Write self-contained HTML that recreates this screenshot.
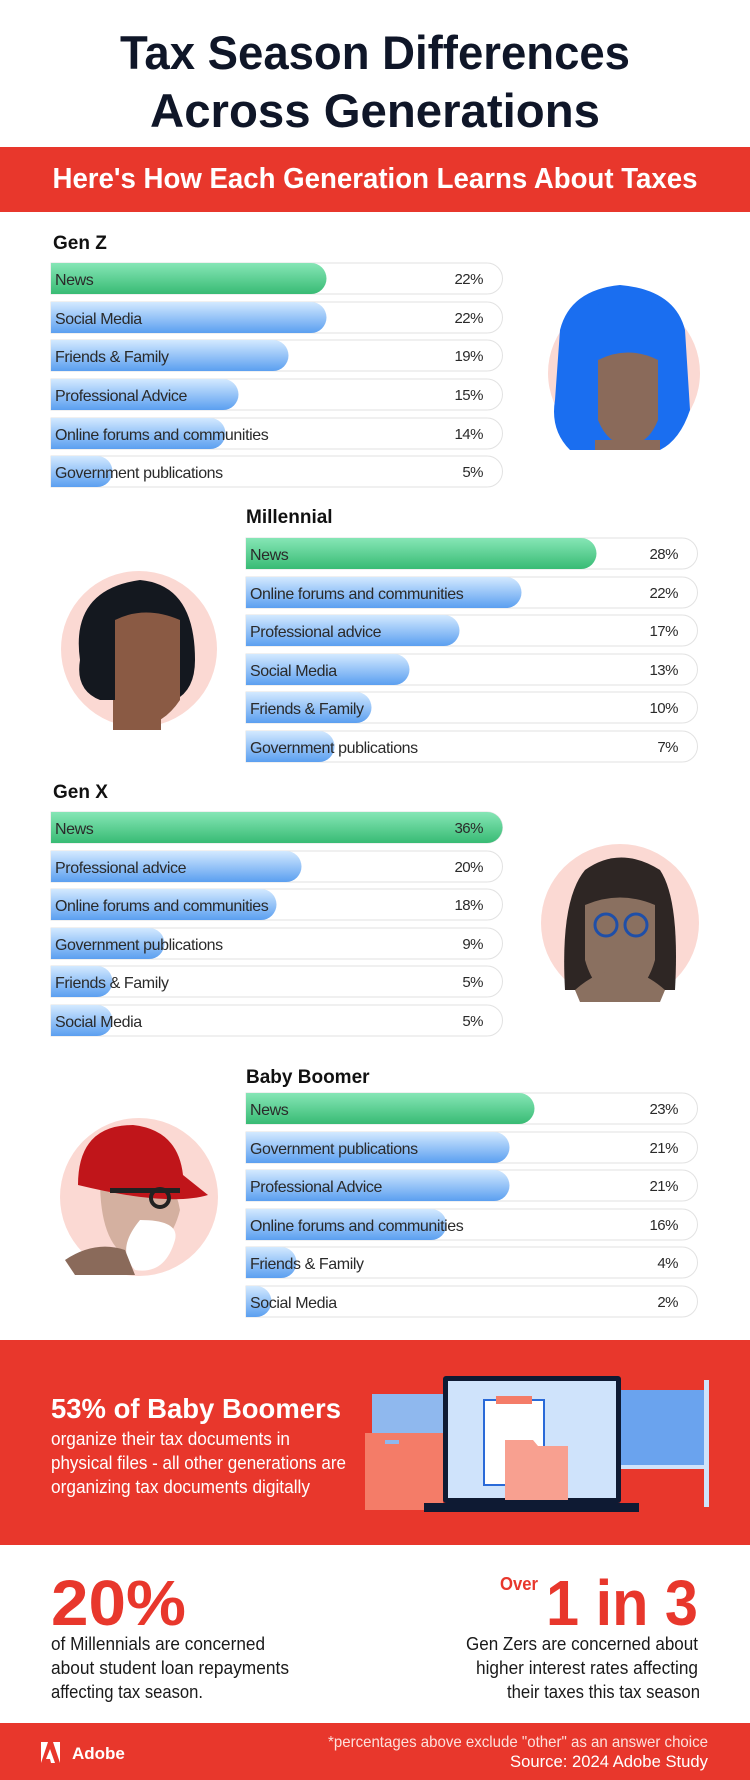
<!DOCTYPE html>
<html><head><meta charset="utf-8"><style>
html,body{margin:0;padding:0;background:#fff}
svg{display:block}
text{font-family:"Liberation Sans",sans-serif}
.lb{font-size:16px;fill:#2a2a2a;letter-spacing:-0.4px}
.pc{font-size:15px;fill:#2a2a2a;text-anchor:end;letter-spacing:-0.5px}
.hd{font-size:19px;font-weight:bold;fill:#111}
</style></head><body>
<svg width="750" height="1780" viewBox="0 0 750 1780" xmlns="http://www.w3.org/2000/svg">
<defs>
<linearGradient id="g" x1="0" y1="0" x2="0" y2="1"><stop offset="0" stop-color="#86e6b6"/><stop offset="1" stop-color="#38bb74"/></linearGradient>
<linearGradient id="b" x1="0" y1="0" x2="0" y2="1"><stop offset="0" stop-color="#d3e9ff"/><stop offset="1" stop-color="#5b9ff0"/></linearGradient>
</defs>
<rect width="750" height="1780" fill="#fff"/>
<text x="375" y="69" text-anchor="middle" font-size="47" font-weight="bold" fill="#0f1628" textLength="510" lengthAdjust="spacingAndGlyphs">Tax Season Differences</text>
<text x="375" y="127" text-anchor="middle" font-size="47" font-weight="bold" fill="#0f1628" textLength="450" lengthAdjust="spacingAndGlyphs">Across Generations</text>
<rect x="0" y="147" width="750" height="65" fill="#e8372c"/>
<text x="375" y="188" text-anchor="middle" font-size="29" font-weight="bold" fill="#fff" textLength="645" lengthAdjust="spacingAndGlyphs">Here's How Each Generation Learns About Taxes</text>

<!-- Gen Z -->
<text class="hd" x="53" y="249">Gen Z</text>
<g id="genz">
<path d="M51 263h436a15.5 15.5 0 0 1 0 31h-436z" fill="#fff" stroke="#e2e2e2"/><path d="M51 263h260a15.5 15.5 0 0 1 0 31h-260z" fill="url(#g)"/><text class="lb" x="55" y="285">News</text><text class="pc" x="483" y="284">22%</text>
<path d="M51 302h436a15.5 15.5 0 0 1 0 31h-436z" fill="#fff" stroke="#e2e2e2"/><path d="M51 302h260a15.5 15.5 0 0 1 0 31h-260z" fill="url(#b)"/><text class="lb" x="55" y="324">Social Media</text><text class="pc" x="483" y="323">22%</text>
<path d="M51 340h436a15.5 15.5 0 0 1 0 31h-436z" fill="#fff" stroke="#e2e2e2"/><path d="M51 340h222a15.5 15.5 0 0 1 0 31h-222z" fill="url(#b)"/><text class="lb" x="55" y="362">Friends &amp; Family</text><text class="pc" x="483" y="361">19%</text>
<path d="M51 379h436a15.5 15.5 0 0 1 0 31h-436z" fill="#fff" stroke="#e2e2e2"/><path d="M51 379h172a15.5 15.5 0 0 1 0 31h-172z" fill="url(#b)"/><text class="lb" x="55" y="401">Professional Advice</text><text class="pc" x="483" y="400">15%</text>
<path d="M51 418h436a15.5 15.5 0 0 1 0 31h-436z" fill="#fff" stroke="#e2e2e2"/><path d="M51 418h159a15.5 15.5 0 0 1 0 31h-159z" fill="url(#b)"/><text class="lb" x="55" y="440">Online forums and communities</text><text class="pc" x="483" y="439">14%</text>
<path d="M51 456h436a15.5 15.5 0 0 1 0 31h-436z" fill="#fff" stroke="#e2e2e2"/><path d="M51 456h46a15.5 15.5 0 0 1 0 31h-46z" fill="url(#b)"/><text class="lb" x="55" y="478">Government publications</text><text class="pc" x="483" y="477">5%</text>
</g>
<!-- Gen Z avatar -->
<circle cx="624" cy="373" r="76" fill="#fbd9d3"/>
<path d="M560 330q10-40 60-45q55 5 65 45l5 80q-10 30-30 40h-90q-20-20-15-50z" fill="#1a6ef0"/>
<circle cx="592" cy="318" r="15" fill="#1a6ef0"/><circle cx="658" cy="318" r="15" fill="#1a6ef0"/>
<path d="M598 360q30-15 60 0v60q-10 25-30 25t-30-25z" fill="#8a6a5a"/>
<path d="M595 440h65v10h-65z" fill="#8a6a5a"/>

<!-- Millennial -->
<text class="hd" x="246" y="523">Millennial</text>
<path d="M246 538h436a15.5 15.5 0 0 1 0 31h-436z" fill="#fff" stroke="#e2e2e2"/><path d="M246 538h335a15.5 15.5 0 0 1 0 31h-335z" fill="url(#g)"/><text class="lb" x="250" y="560">News</text><text class="pc" x="678" y="559">28%</text>
<path d="M246 577h436a15.5 15.5 0 0 1 0 31h-436z" fill="#fff" stroke="#e2e2e2"/><path d="M246 577h260a15.5 15.5 0 0 1 0 31h-260z" fill="url(#b)"/><text class="lb" x="250" y="599">Online forums and communities</text><text class="pc" x="678" y="598">22%</text>
<path d="M246 615h436a15.5 15.5 0 0 1 0 31h-436z" fill="#fff" stroke="#e2e2e2"/><path d="M246 615h198a15.5 15.5 0 0 1 0 31h-198z" fill="url(#b)"/><text class="lb" x="250" y="637">Professional advice</text><text class="pc" x="678" y="636">17%</text>
<path d="M246 654h436a15.5 15.5 0 0 1 0 31h-436z" fill="#fff" stroke="#e2e2e2"/><path d="M246 654h148a15.5 15.5 0 0 1 0 31h-148z" fill="url(#b)"/><text class="lb" x="250" y="676">Social Media</text><text class="pc" x="678" y="675">13%</text>
<path d="M246 692h436a15.5 15.5 0 0 1 0 31h-436z" fill="#fff" stroke="#e2e2e2"/><path d="M246 692h110a15.5 15.5 0 0 1 0 31h-110z" fill="url(#b)"/><text class="lb" x="250" y="714">Friends &amp; Family</text><text class="pc" x="678" y="713">10%</text>
<path d="M246 731h436a15.5 15.5 0 0 1 0 31h-436z" fill="#fff" stroke="#e2e2e2"/><path d="M246 731h73a15.5 15.5 0 0 1 0 31h-73z" fill="url(#b)"/><text class="lb" x="250" y="753">Government publications</text><text class="pc" x="678" y="752">7%</text>
<circle cx="139" cy="649" r="78" fill="#fbd9d3"/>
<path d="M80 660q-10-70 60-80q55 5 55 80q0 30-20 40h-75q-25-10-20-40z" fill="#14181f"/>
<path d="M115 620q30-15 65 0v80q-20 30-50 25l-15 0z" fill="#8a5a44"/>
<path d="M113 700h48v30h-48z" fill="#8a5a44"/>

<!-- Gen X -->
<text class="hd" x="53" y="798">Gen X</text>
<path d="M51 812h436a15.5 15.5 0 0 1 0 31h-436z" fill="#fff" stroke="#e2e2e2"/><path d="M51 812h436a15.5 15.5 0 0 1 0 31h-436z" fill="url(#g)"/><text class="lb" x="55" y="834">News</text><text class="pc" x="483" y="833">36%</text>
<path d="M51 851h436a15.5 15.5 0 0 1 0 31h-436z" fill="#fff" stroke="#e2e2e2"/><path d="M51 851h235a15.5 15.5 0 0 1 0 31h-235z" fill="url(#b)"/><text class="lb" x="55" y="873">Professional advice</text><text class="pc" x="483" y="872">20%</text>
<path d="M51 889h436a15.5 15.5 0 0 1 0 31h-436z" fill="#fff" stroke="#e2e2e2"/><path d="M51 889h210a15.5 15.5 0 0 1 0 31h-210z" fill="url(#b)"/><text class="lb" x="55" y="911">Online forums and communities</text><text class="pc" x="483" y="910">18%</text>
<path d="M51 928h436a15.5 15.5 0 0 1 0 31h-436z" fill="#fff" stroke="#e2e2e2"/><path d="M51 928h98a15.5 15.5 0 0 1 0 31h-98z" fill="url(#b)"/><text class="lb" x="55" y="950">Government publications</text><text class="pc" x="483" y="949">9%</text>
<path d="M51 966h436a15.5 15.5 0 0 1 0 31h-436z" fill="#fff" stroke="#e2e2e2"/><path d="M51 966h46a15.5 15.5 0 0 1 0 31h-46z" fill="url(#b)"/><text class="lb" x="55" y="988">Friends &amp; Family</text><text class="pc" x="483" y="987">5%</text>
<path d="M51 1005h436a15.5 15.5 0 0 1 0 31h-436z" fill="#fff" stroke="#e2e2e2"/><path d="M51 1005h46a15.5 15.5 0 0 1 0 31h-46z" fill="url(#b)"/><text class="lb" x="55" y="1027">Social Media</text><text class="pc" x="483" y="1026">5%</text>
<circle cx="620" cy="923" r="79" fill="#fbd9d3"/>
<path d="M565 990q-5-90 20-120q35-25 75 0q20 30 15 120z" fill="#2e2624"/>
<path d="M585 905q35-15 70 0v55q-10 35-35 38q-25-3-35-38z" fill="#8a7060"/>
<path d="M575 990q45-40 90 0l-5 12h-80z" fill="#8a7060"/>
<circle cx="606" cy="925" r="11" fill="none" stroke="#1f4fa8" stroke-width="3"/><circle cx="636" cy="925" r="11" fill="none" stroke="#1f4fa8" stroke-width="3"/>

<!-- Baby Boomer -->
<text class="hd" x="246" y="1083">Baby Boomer</text>
<path d="M246 1093h436a15.5 15.5 0 0 1 0 31h-436z" fill="#fff" stroke="#e2e2e2"/><path d="M246 1093h273a15.5 15.5 0 0 1 0 31h-273z" fill="url(#g)"/><text class="lb" x="250" y="1115">News</text><text class="pc" x="678" y="1114">23%</text>
<path d="M246 1132h436a15.5 15.5 0 0 1 0 31h-436z" fill="#fff" stroke="#e2e2e2"/><path d="M246 1132h248a15.5 15.5 0 0 1 0 31h-248z" fill="url(#b)"/><text class="lb" x="250" y="1154">Government publications</text><text class="pc" x="678" y="1153">21%</text>
<path d="M246 1170h436a15.5 15.5 0 0 1 0 31h-436z" fill="#fff" stroke="#e2e2e2"/><path d="M246 1170h248a15.5 15.5 0 0 1 0 31h-248z" fill="url(#b)"/><text class="lb" x="250" y="1192">Professional Advice</text><text class="pc" x="678" y="1191">21%</text>
<path d="M246 1209h436a15.5 15.5 0 0 1 0 31h-436z" fill="#fff" stroke="#e2e2e2"/><path d="M246 1209h185a15.5 15.5 0 0 1 0 31h-185z" fill="url(#b)"/><text class="lb" x="250" y="1231">Online forums and communities</text><text class="pc" x="678" y="1230">16%</text>
<path d="M246 1247h436a15.5 15.5 0 0 1 0 31h-436z" fill="#fff" stroke="#e2e2e2"/><path d="M246 1247h35a15.5 15.5 0 0 1 0 31h-35z" fill="url(#b)"/><text class="lb" x="250" y="1269">Friends &amp; Family</text><text class="pc" x="678" y="1268">4%</text>
<path d="M246 1286h436a15.5 15.5 0 0 1 0 31h-436z" fill="#fff" stroke="#e2e2e2"/><path d="M246 1286h10a15.5 15.5 0 0 1 0 31h-10z" fill="url(#b)"/><text class="lb" x="250" y="1308">Social Media</text><text class="pc" x="678" y="1307">2%</text>
<circle cx="139" cy="1197" r="79" fill="#fbd9d3"/>
<path d="M100 1180q5-30 50-20q25 20 30 50q-10 40-45 50q-35-10-35-80z" fill="#d4b0a0"/>
<path d="M140 1220q40 0 35 20q-10 35-40 30q-20-20 5-50z" fill="#fff"/>
<path d="M65 1260q30-20 60-10l10 25h-60z" fill="#8a6a5a"/>
<path d="M78 1185q0-60 55-60q45 5 50 50l25 20q-40 12-130 -10z" fill="#c0151a"/>
<rect x="110" y="1188" width="70" height="5" fill="#222"/><circle cx="160" cy="1198" r="9" fill="none" stroke="#222" stroke-width="4"/>

<!-- Red band -->
<rect x="0" y="1340" width="750" height="205" fill="#e8372c"/>
<text x="51" y="1418" font-size="28" font-weight="bold" fill="#fff" textLength="290" lengthAdjust="spacingAndGlyphs">53% of Baby Boomers</text>
<text x="51" y="1445" font-size="18" fill="#fff" textLength="239" lengthAdjust="spacingAndGlyphs">organize their tax documents in</text>
<text x="51" y="1469" font-size="18" fill="#fff" textLength="295" lengthAdjust="spacingAndGlyphs">physical files - all other generations are</text>
<text x="51" y="1493" font-size="18" fill="#fff" textLength="259" lengthAdjust="spacingAndGlyphs">organizing tax documents digitally</text>
<rect x="372" y="1394" width="71" height="40" fill="#8fb8ee"/>
<rect x="365" y="1433" width="78" height="77" fill="#f47c68"/>
<rect x="385" y="1440" width="14" height="4" fill="#8fb8ee"/>
<rect x="621" y="1390" width="87" height="76" fill="#6aa3ee"/>
<rect x="621" y="1465" width="87" height="4" fill="#cfe3fb"/>
<rect x="704" y="1380" width="5" height="127" fill="#cfe3fb"/>
<rect x="443" y="1376" width="178" height="127" rx="3" fill="#0e1a33"/>
<rect x="448" y="1381" width="168" height="117" fill="#cfe3fb"/>
<rect x="424" y="1503" width="215" height="9" fill="#0e1a33"/>
<rect x="484" y="1400" width="60" height="85" fill="#fff" stroke="#2a6ad8" stroke-width="2"/>
<rect x="496" y="1396" width="36" height="8" fill="#f47c68"/>
<path d="M505 1440h28l5 6h30v54h-63z" fill="#f8a090"/>

<!-- stats -->
<text x="51" y="1625" font-size="64" font-weight="bold" fill="#e8372c" textLength="135" lengthAdjust="spacingAndGlyphs">20%</text>
<text x="51" y="1650" font-size="18" fill="#1a1a1a" textLength="214" lengthAdjust="spacingAndGlyphs">of Millennials are concerned</text>
<text x="51" y="1674" font-size="18" fill="#1a1a1a" textLength="238" lengthAdjust="spacingAndGlyphs">about student loan repayments</text>
<text x="51" y="1698" font-size="18" fill="#1a1a1a" textLength="152" lengthAdjust="spacingAndGlyphs">affecting tax season.</text>
<text x="500" y="1590" font-size="18" font-weight="bold" fill="#e8372c" textLength="38" lengthAdjust="spacingAndGlyphs">Over</text>
<text x="698" y="1625" text-anchor="end" font-size="64" font-weight="bold" fill="#e8372c" textLength="152" lengthAdjust="spacingAndGlyphs">1 in 3</text>
<text x="698" y="1650" text-anchor="end" font-size="18" fill="#1a1a1a" textLength="232" lengthAdjust="spacingAndGlyphs">Gen Zers are concerned about</text>
<text x="698" y="1674" text-anchor="end" font-size="18" fill="#1a1a1a" textLength="222" lengthAdjust="spacingAndGlyphs">higher interest rates affecting</text>
<text x="700" y="1698" text-anchor="end" font-size="18" fill="#1a1a1a" textLength="193" lengthAdjust="spacingAndGlyphs">their taxes this tax season</text>

<!-- footer -->
<rect x="0" y="1723" width="750" height="57" fill="#e8372c"/>
<path d="M41 1742h7l-7 21z M53 1742h7v21z M50 1749l5 14h-4l-1-4h-4z" fill="#fff"/>
<text x="72" y="1759" font-size="17" font-weight="bold" fill="#fff">Adobe</text>
<text x="708" y="1747" text-anchor="end" font-size="16" fill="#fde0dc" textLength="380" lengthAdjust="spacingAndGlyphs">*percentages above exclude "other" as an answer choice</text>
<text x="708" y="1767" text-anchor="end" font-size="17" fill="#fff" textLength="198" lengthAdjust="spacingAndGlyphs">Source: 2024 Adobe Study</text>
</svg>
</body></html>
